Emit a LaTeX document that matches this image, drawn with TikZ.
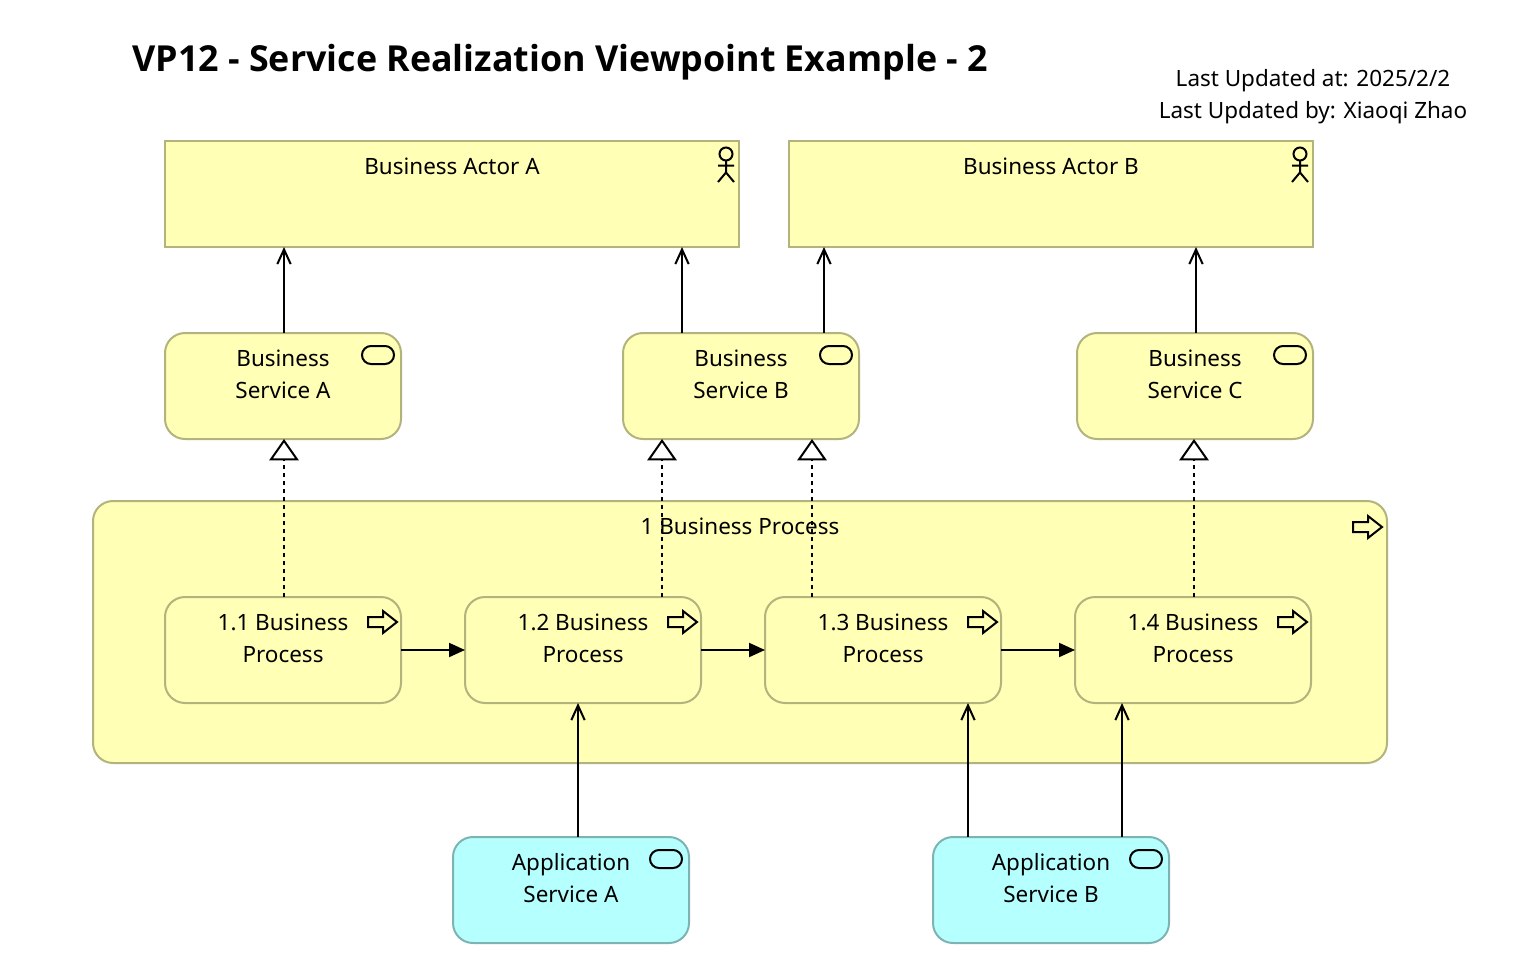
\documentclass[tikz,border=0pt]{standalone}
\usepackage{fontspec}
\setmainfont{Noto Sans}
\newfontfamily\headfont{Open Sans}
\usetikzlibrary{arrows.meta}
\definecolor{busfill}{HTML}{FFFFB5}
\definecolor{busline}{HTML}{B3B37E}
\definecolor{appfill}{HTML}{B5FFFF}
\definecolor{appline}{HTML}{7EB3B3}
\tikzset{
  x=0.75pt,y=-0.75pt,
  lw/.style={line width=1.5pt},
  box/.style={draw=busline,fill=busfill,lw,outer sep=0pt,inner sep=0pt},
  roundbox/.style={box,rounded corners=15pt},
  smallbox/.style={roundbox,minimum width=177pt,minimum height=79.5pt},
  appbox/.style={smallbox,draw=appline,fill=appfill},
  toptext/.style={anchor=north,yshift=-12.4pt,inner sep=0pt,align=center,font=\fontsize{16.85}{24}\selectfont},
  titletext/.style={inner sep=0pt,font=\headfont\fontsize{26.87}{32}\selectfont\bfseries},
  notetext/.style={inner sep=0pt,align=center,font=\fontsize{16.85}{24}\selectfont},
  icon/.style={draw=black,lw,line join=miter},
  serve/.style={draw=black,lw,-{Straight Barb[length=11pt,width=10pt,line width=1.5pt]}},
  trigger/.style={draw=black,lw,-{Triangle[length=12pt,width=10.5pt,fill=black]}},
  realize/.style={draw=black,lw,dash pattern=on 3pt off 3pt,-{Triangle[open,length=16pt,width=22pt,line width=1.5pt,fill=white]}},
  actoricon/.pic={
    \draw[icon] (-13,13) circle[radius=6.5];
    \draw[icon] (-13,19.5) -- (-13,31.5) (-21,24.7) -- (-5,24.7) (-21,41) -- (-13,31.5) -- (-5,41);
  },
  serviceicon/.pic={
    \draw[icon,rounded corners=6.75pt] (-39,13) rectangle (-7,31);
  },
  processicon/.pic={
    \draw[icon] (-33,20) -- (-18,20) -- (-18,14) -- (-4,25) -- (-18,36) -- (-18,30) -- (-33,30) -- cycle;
  }
}
\begin{document}
\begin{tikzpicture}
\useasboundingbox (0,0) rectangle (1520,966);
\node[titletext,anchor=base west] (title) at (132,72) {VP12 - Service Realization Viewpoint Example - 2};
\node[notetext] (note) at (1313,96.5) {Last Updated at: 2025/2/2\\Last Updated by: Xiaoqi Zhao};

\node[box,minimum width=430.5pt,minimum height=79.5pt,label={[toptext]north:Business Actor A}] (actA) at (452,194) {};
\node[box,minimum width=393pt,minimum height=79.5pt,label={[toptext]north:Business Actor B}] (actB) at (1051,194) {};
\pic at (actA.north east) {actoricon};
\pic at (actB.north east) {actoricon};

\node[smallbox,label={[toptext]north:Business\\Service A}] (sA) at (283,386) {};
\node[smallbox,label={[toptext]north:Business\\Service B}] (sB) at (741,386) {};
\node[smallbox,label={[toptext]north:Business\\Service C}] (sC) at (1195,386) {};
\pic at (sA.north east) {serviceicon};
\pic at (sB.north east) {serviceicon};
\pic at (sC.north east) {serviceicon};

\node[roundbox,minimum width=970.5pt,minimum height=196.5pt,label={[toptext]north:1 Business Process}] (p) at (740,632) {};
\pic at ([xshift=-0.75pt,yshift=-0.75pt]p.north east) {processicon};

\node[smallbox,label={[toptext]north:1.1 Business\\Process}] (p1) at (283,650) {};
\node[smallbox,label={[toptext]north:1.2 Business\\Process}] (p2) at (583,650) {};
\node[smallbox,label={[toptext]north:1.3 Business\\Process}] (p3) at (883,650) {};
\node[smallbox,label={[toptext]north:1.4 Business\\Process}] (p4) at (1193,650) {};
\pic at (p1.north east) {processicon};
\pic at (p2.north east) {processicon};
\pic at (p3.north east) {processicon};
\pic at (p4.north east) {processicon};

\node[appbox,label={[toptext]north:Application\\Service A}] (aA) at (571,890) {};
\node[appbox,label={[toptext]north:Application\\Service B}] (aB) at (1051,890) {};
\pic at (aA.north east) {serviceicon};
\pic at (aB.north east) {serviceicon};

\coordinate (x1) at (284,0);
\coordinate (x2) at (682,0);
\coordinate (x3) at (824,0);
\coordinate (x4) at (1196,0);
\draw[serve] (sA.north -| x1) -- (actA.south -| x1);
\draw[serve] (sB.north -| x2) -- (actA.south -| x2);
\draw[serve] (sB.north -| x3) -- (actB.south -| x3);
\draw[serve] (sC.north -| x4) -- (actB.south -| x4);

\coordinate (r1) at (284,0);
\coordinate (r2) at (662,0);
\coordinate (r3) at (812,0);
\coordinate (r4) at (1194,0);
\draw[realize] (p1.north -| r1) -- (sA.south -| r1);
\draw[realize] (p2.north -| r2) -- (sB.south -| r2);
\draw[realize] (p3.north -| r3) -- (sB.south -| r3);
\draw[realize] (p4.north -| r4) -- (sC.south -| r4);

\draw[trigger] (p1.east) -- (p2.west);
\draw[trigger] (p2.east) -- (p3.west);
\draw[trigger] (p3.east) -- (p4.west);

\coordinate (s1) at (578,0);
\coordinate (s2) at (968,0);
\coordinate (s3) at (1122,0);
\draw[serve] (aA.north -| s1) -- (p2.south -| s1);
\draw[serve] (aB.north -| s2) -- (p3.south -| s2);
\draw[serve] (aB.north -| s3) -- (p4.south -| s3);
\end{tikzpicture}
\end{document}
